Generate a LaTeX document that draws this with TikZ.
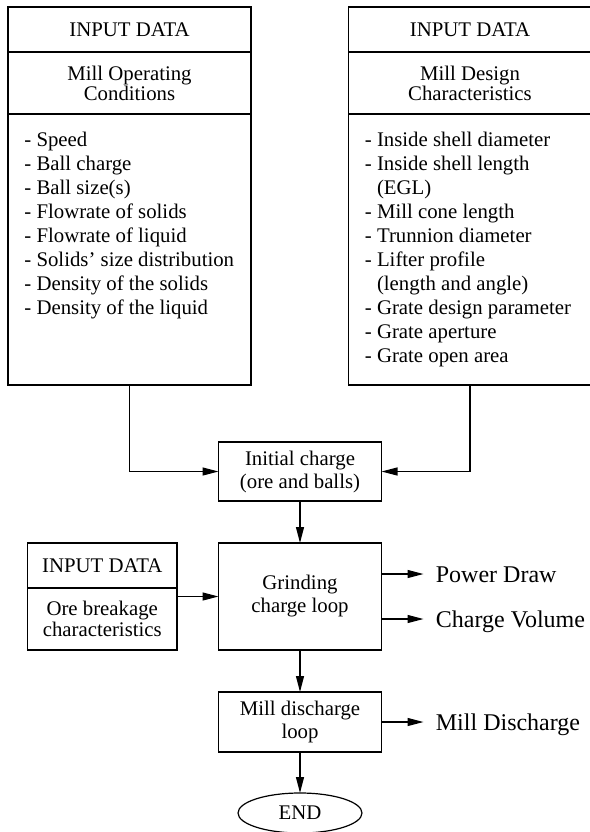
\documentclass[tikz,border=0pt]{standalone}
\usepackage{fontspec}
\setmainfont{Liberation Serif}
\usetikzlibrary{arrows.meta,positioning,shapes.geometric}

\begin{document}
\begin{tikzpicture}[
  x=0.5pt, y=-0.5pt,
  cell/.style={draw, line width=0.6pt, inner sep=0pt, outer sep=0pt, align=center},
  hdr/.style={cell, minimum width=121.5pt, minimum height=22.5pt, font=\fontsize{10.4}{11}\selectfont},
  sub/.style={cell, minimum width=121.5pt, minimum height=31pt, font=\fontsize{10.4}{10}\selectfont},
  panel/.style={cell, minimum width=121.5pt, minimum height=135.5pt},
  items/.style={inner sep=0pt, align=left, font=\fontsize{10.4}{12}\selectfont},
  proc/.style={cell, minimum width=81.5pt, font=\fontsize{10.4}{11.5}\selectfont},
  orebox/.style={cell, minimum width=74.75pt},
  outlabel/.style={inner xsep=6pt, inner ysep=0pt, text height=8pt, text depth=0pt, font=\fontsize{12}{14}\selectfont},
  arr/.style={-{Triangle[length=8pt, width=4pt]}, line width=0.6pt}
]
\useasboundingbox (0,0) rectangle (590,832);

% input panels
\node[hdr] (lhead) at (129.5,29.5) {INPUT DATA};
\node[sub, below=0pt of lhead] (lsub) {Mill Operating\\Conditions};
\node[panel, below=0pt of lsub] (lbody) {};
\node[items, anchor=north west] (llist) at ([xshift=8pt, yshift=-9pt]lbody.north west)
  {- Speed\\- Ball charge\\- Ball size(s)\\- Flowrate of solids\\- Flowrate of liquid\\%
   - Solids' size distribution\\- Density of the solids\\- Density of the liquid};

\node[hdr] (rhead) at (470,29.5) {INPUT DATA};
\node[sub, below=0pt of rhead] (rsub) {Mill Design\\Characteristics};
\node[panel, below=0pt of rsub] (rbody) {};
\node[items, anchor=north west] (rlist) at ([xshift=8pt, yshift=-9pt]rbody.north west)
  {- Inside shell diameter\\- Inside shell length\\\phantom{- }(EGL)\\- Mill cone length\\%
   - Trunnion diameter\\- Lifter profile\\\phantom{- }(length and angle)\\%
   - Grate design parameter\\- Grate aperture\\- Grate open area};

% main chain
\node[proc, minimum height=29.5pt] (init) at (300,471.5) {Initial charge\\(ore and balls)};
\node[proc, minimum height=53.5pt, below=21pt of init] (grind) {Grinding\\charge loop};
\node[proc, minimum height=30pt, below=21pt of grind] (dis) {Mill discharge\\loop};
\node[cell, ellipse, minimum width=62pt, minimum height=20pt, below=20.5pt of dis,
  font=\fontsize{10.4}{11}\selectfont] (fin) {END};

\node[orebox, minimum height=22.5pt, font=\fontsize{10.4}{11}\selectfont] (orehead) at (102.25,565.5) {INPUT DATA};
\node[orebox, minimum height=31pt, below=0pt of orehead, font=\fontsize{10.4}{10.2}\selectfont] (oresub) {Ore breakage\\characteristics};

% outputs
\node[outlabel, right=21pt of grind.east, yshift=11.25pt] (power) {Power Draw};
\node[outlabel, right=21pt of grind.east, yshift=-11.25pt] (volume) {Charge Volume};
\node[outlabel, right=21pt of dis.east] (mdis) {Mill Discharge};

\draw[arr] (lbody.south) |- (init.west);
\draw[arr] (rbody.south) |- (init.east);
\draw[arr] (init) -- (grind); \draw[arr] (grind) -- (dis); \draw[arr] (dis) -- (fin);
\draw[arr] (grind.west -| oresub.east) -- (grind.west);
\draw[arr] (grind.east |- power.west) -- (power.west);
\draw[arr] (grind.east |- volume.west) -- (volume.west);
\draw[arr] (dis) -- (mdis);
\end{tikzpicture}
\end{document}
